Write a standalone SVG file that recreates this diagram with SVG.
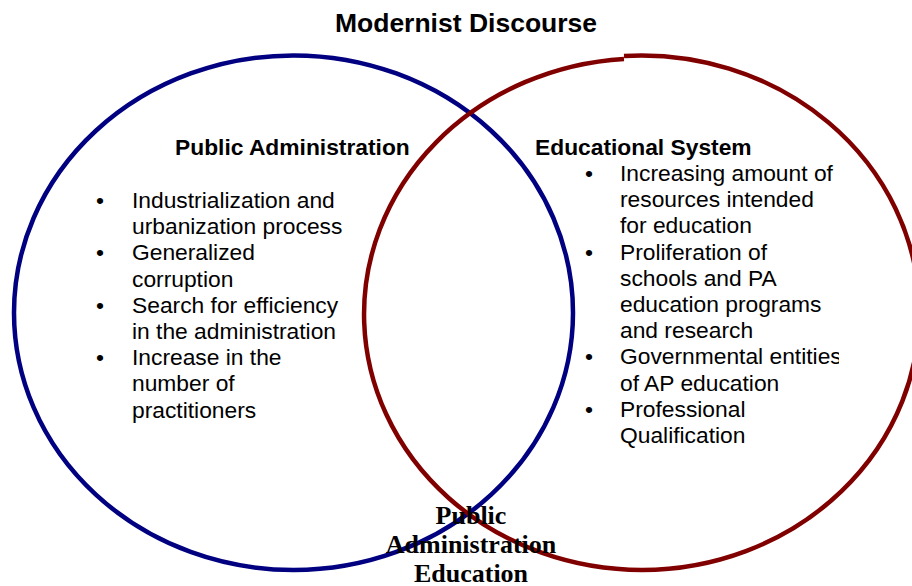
<svg xmlns="http://www.w3.org/2000/svg" width="912" height="586" viewBox="0 0 912 586">
  <style>
    .title { font-family: "Liberation Sans", Arial, sans-serif; font-weight: bold; font-size: 26.5px; fill: #000; }
    .head { font-family: "Liberation Sans", Arial, sans-serif; font-weight: bold; font-size: 22.8px; fill: #000; }
    .body { font-family: "Liberation Sans", Arial, sans-serif; font-size: 22.8px; fill: #000; }
    .core { font-family: "Liberation Serif", "Times New Roman", serif; font-weight: bold; font-size: 26px; fill: #000; text-anchor: middle; }
    .ring { fill: none; stroke-width: 4.5; }
  </style>
  <defs>
    <clipPath id="rightBox">
      <rect x="560" y="150" width="279" height="320"/>
    </clipPath>
  </defs>
  <rect width="912" height="586" fill="#fff"/>

  <text class="title" x="466" y="32" text-anchor="middle">Modernist Discourse</text>

  <!-- the two overlapping sets -->
  <g id="connectors">
    <ellipse id="public-administration-ring" class="ring" stroke="#000080" cx="293.5" cy="312.7" rx="279.5" ry="257.3"/>
    <!-- right ring: drawn as two arcs that leave a small step at the top -->
    <path id="educational-system-ring" class="ring" stroke="#800000"
          d="M 624 55.9 A 278 257.3 0 1 1 642 570 A 278 255.82 0 0 1 624 58.9"/>
  </g>

  <g id="public-administration">
    <text class="head" x="175" y="155">Public Administration</text>
    <text class="body" x="96" y="208">•</text>
    <text class="body" x="132" y="208">Industrialization and</text>
    <text class="body" x="132" y="234.2">urbanization process</text>
    <text class="body" x="96" y="260.4">•</text>
    <text class="body" x="132" y="260.4">Generalized</text>
    <text class="body" x="132" y="286.6">corruption</text>
    <text class="body" x="96" y="312.8">•</text>
    <text class="body" x="132" y="312.8">Search for efficiency</text>
    <text class="body" x="132" y="339">in the administration</text>
    <text class="body" x="96" y="365.2">•</text>
    <text class="body" x="132" y="365.2">Increase in the</text>
    <text class="body" x="132" y="391.4">number of</text>
    <text class="body" x="132" y="417.6">practitioners</text>
  </g>

  <g id="educational-system">
    <text class="head" x="535" y="155">Educational System</text>
    <g clip-path="url(#rightBox)">
      <text class="body" x="585" y="181">•</text>
      <text class="body" x="620" y="181">Increasing amount of</text>
      <text class="body" x="620" y="207.2">resources intended</text>
      <text class="body" x="620" y="233.4">for education</text>
      <text class="body" x="585" y="259.6">•</text>
      <text class="body" x="620" y="259.6">Proliferation of</text>
      <text class="body" x="620" y="285.8">schools and PA</text>
      <text class="body" x="620" y="312">education programs</text>
      <text class="body" x="620" y="338.2">and research</text>
      <text class="body" x="585" y="364.4">•</text>
      <text class="body" x="620" y="364.4">Governmental entities</text>
      <text class="body" x="620" y="390.6">of AP education</text>
      <text class="body" x="585" y="416.8">•</text>
      <text class="body" x="620" y="416.8">Professional</text>
      <text class="body" x="620" y="443">Qualification</text>
    </g>
  </g>

  <g id="public-administration-education">
    <text class="core" x="471" y="524">Public</text>
    <text class="core" x="471" y="553">Administration</text>
    <text class="core" x="471" y="581.5">Education</text>
  </g>
</svg>
